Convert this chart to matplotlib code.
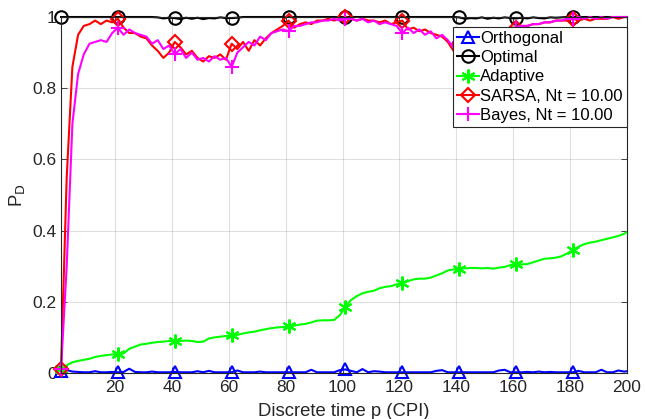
import matplotlib
matplotlib.use("Agg")
import matplotlib.pyplot as plt

plt.rcParams["font.family"] = ["Liberation Sans", "DejaVu Sans"]

# time axis: odd CPIs 1..199 plus the last one
p = list(range(1, 200, 2)) + [200]

orthogonal = [0.005, 0.008, 0.004, 0.003, 0.002, 0.002, 0.005, 0.002, 0.002, 0.003,
              0.002, 0.003, 0.012, 0.003, 0.002, 0.002, 0.004, 0.002, 0.002, 0.002,
              0.003, 0.002, 0.002, 0.002, 0.005, 0.002, 0.006, 0.002, 0.002, 0.002,
              0.002, 0.007, 0.002, 0.002, 0.002, 0.004, 0.002, 0.002, 0.002, 0.002,
              0.002, 0.002, 0.002, 0.002, 0.009, 0.002, 0.002, 0.002, 0.002, 0.008,
              0.010, 0.006, 0.002, 0.011, 0.002, 0.005, 0.004, 0.002, 0.002, 0.002,
              0.002, 0.002, 0.002, 0.002, 0.002, 0.002, 0.006, 0.008, 0.002, 0.002,
              0.002, 0.002, 0.002, 0.002, 0.002, 0.002, 0.002, 0.007, 0.009, 0.002,
              0.002, 0.002, 0.003, 0.002, 0.004, 0.002, 0.003, 0.002, 0.002, 0.002,
              0.002, 0.006, 0.002, 0.002, 0.002, 0.009, 0.002, 0.002, 0.007, 0.004,
              0.005]

optimal = [1.0] * 17 + [0.999, 0.996, 0.998, 0.997, 0.994, 0.998, 0.995, 0.998, 0.994,
                        0.997, 0.996, 0.999, 0.997, 0.997, 0.998] + [1.0] * 38 + \
          [0.999, 0.995, 0.997, 0.996, 0.999, 0.995, 0.998, 0.996, 0.999, 0.997,
           0.996, 0.998, 0.996, 0.999, 0.997, 0.996, 0.999, 0.998, 0.999] + [1.0] * 12

adaptive = [0.010, 0.022, 0.030, 0.034, 0.037, 0.040, 0.045, 0.048, 0.050, 0.052,
            0.052, 0.055, 0.068, 0.074, 0.080, 0.082, 0.085, 0.087, 0.088, 0.090,
            0.090, 0.090, 0.091, 0.090, 0.087, 0.088, 0.097, 0.100, 0.102, 0.104,
            0.106, 0.107, 0.111, 0.114, 0.116, 0.120, 0.123, 0.126, 0.128, 0.129,
            0.131, 0.133, 0.136, 0.138, 0.142, 0.147, 0.148, 0.148, 0.149, 0.162,
            0.186, 0.205, 0.216, 0.224, 0.228, 0.231, 0.238, 0.242, 0.244, 0.249,
            0.253, 0.258, 0.263, 0.265, 0.265, 0.268, 0.274, 0.280, 0.288, 0.291,
            0.292, 0.294, 0.295, 0.295, 0.294, 0.295, 0.293, 0.296, 0.298, 0.303,
            0.305, 0.305, 0.306, 0.311, 0.316, 0.321, 0.322, 0.324, 0.328, 0.336,
            0.345, 0.355, 0.362, 0.366, 0.369, 0.373, 0.377, 0.381, 0.385, 0.391,
            0.396]

sarsa = [0.010, 0.550, 0.860, 0.950, 0.975, 0.980, 0.990, 0.980, 0.990, 0.985,
         0.995, 0.970, 0.955, 0.955, 0.945, 0.940, 0.920, 0.905, 0.885, 0.900,
         0.930, 0.915, 0.895, 0.905, 0.885, 0.875, 0.890, 0.885, 0.895, 0.880,
         0.925, 0.910, 0.930, 0.905, 0.935, 0.920, 0.940, 0.955, 0.965, 0.975,
         0.990, 0.970, 0.980, 0.985, 0.980, 0.990, 0.990, 0.995, 0.990, 0.995,
         1.000, 0.995, 0.990, 0.995, 0.990, 0.990, 0.985, 0.990, 0.980, 0.985,
         0.990, 0.965, 0.970, 0.960, 0.965, 0.955, 0.950, 0.945, 0.930, 0.905,
         0.925, 0.935, 0.940, 0.950, 0.950, 0.955, 0.960, 0.960, 0.965, 0.970,
         0.970, 0.975, 0.975, 0.980, 0.980, 0.985, 0.985, 0.990, 0.990, 0.990,
         0.995, 0.990, 0.995, 0.990, 0.995, 0.995, 0.995, 1.000, 0.995, 1.000,
         1.000]

bayes = [0.010, 0.300, 0.700, 0.840, 0.895, 0.925, 0.930, 0.935, 0.930, 0.955,
         0.970, 0.950, 0.965, 0.955, 0.950, 0.945, 0.925, 0.935, 0.910, 0.920,
         0.895, 0.910, 0.885, 0.900, 0.880, 0.885, 0.875, 0.890, 0.880, 0.885,
         0.860, 0.900, 0.915, 0.930, 0.920, 0.945, 0.935, 0.955, 0.960, 0.965,
         0.960, 0.975, 0.975, 0.980, 0.985, 0.985, 0.990, 0.990, 0.995, 0.990,
         0.995, 0.995, 0.990, 0.995, 0.985, 0.990, 0.980, 0.985, 0.980, 0.975,
         0.955, 0.970, 0.955, 0.965, 0.950, 0.960, 0.940, 0.950, 0.935, 0.915,
         0.930, 0.940, 0.935, 0.945, 0.950, 0.955, 0.955, 0.960, 0.965, 0.965,
         0.970, 0.975, 0.975, 0.980, 0.980, 0.985, 0.985, 0.990, 0.990, 0.995,
         0.995, 1.000, 0.995, 1.000, 0.995, 1.000, 0.995, 1.000, 1.000, 1.000,
         1.000]

labels = ["Orthogonal", "Optimal", "Adaptive", "SARSA, Nt = 10.00", "Bayes, Nt = 10.00"]
xticks = [20, 40, 60, 80, 100, 120, 140, 160, 180, 200]
yticks = [0, 0.2, 0.4, 0.6, 0.8, 1.0]
ytick_labels = ["0", "0.2", "0.4", "0.6", "0.8", "1"]

INK = "#262626"
fig = plt.figure(figsize=(6.45, 4.19), dpi=100)
ax = fig.add_axes([0.0946, 0.1098, 0.8774, 0.8496])

mk = dict(markevery=slice(0, 100, 10), fillstyle="none", mew=1.5, lw=1.5, clip_on=False)
ax.plot(p, orthogonal, color="#0000ff", marker="^", ms=9, label=labels[0], **mk)
ax.plot(p, optimal, color="#000000", marker="o", ms=9, label=labels[1], **mk)
ax.plot(p, adaptive, color="#00ff00", marker=(6, 2, 0), ms=10, label=labels[2], **mk)
ax.plot(p, sarsa, color="#ff0000", marker="D", ms=7.5, label=labels[3], **mk)
ax.plot(p, bayes, color="#ff00ff", marker="+", ms=10, label=labels[4], **mk)

ax.set_xlim(1, 200)
ax.set_ylim(0, 1)
ax.set_xticks(xticks)
ax.set_yticks(yticks)
ax.set_yticklabels(ytick_labels)
ax.grid(True, color="#000000", alpha=0.12, lw=0.8)
ax.tick_params(direction="in", top=True, right=True, length=4, width=0.6,
               colors=INK, labelsize=12.5, pad=3)
ax.tick_params(axis="x", pad=5)
for s in ax.spines.values():
    s.set_color(INK)
    s.set_linewidth(0.8)

ax.set_xlabel("Discrete time p (CPI)", fontsize=13.3, color=INK, labelpad=6)
ax.set_ylabel(r"P$_\mathrm{D}$", fontsize=13.3, color=INK, labelpad=4)

leg = ax.legend(loc="upper right", bbox_to_anchor=(1.0, 0.972), borderaxespad=0,
                fontsize=12, fancybox=False, framealpha=1, edgecolor=INK,
                handlelength=1.3, handletextpad=0.1, borderpad=0.25, labelspacing=0.25)
leg.get_frame().set_linewidth(0.8)
leg.set_zorder(5)

fig.savefig("out.png", dpi=100)
